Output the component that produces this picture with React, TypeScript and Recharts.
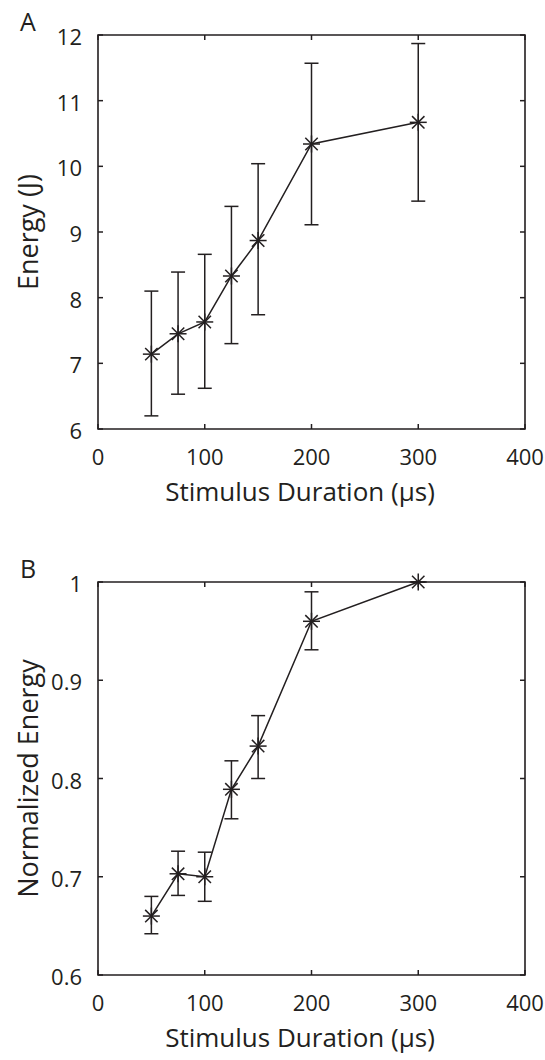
import React from "react";
import { LineChart, Line, XAxis, YAxis, ErrorBar, ReferenceArea } from "recharts";

// stimulus durations (µs)
const durations = [50, 75, 100, 125, 150, 200, 300];

// panel A: energy (J)
const energyMean = [7.14, 7.45, 7.63, 8.33, 8.87, 10.34, 10.67];
const energyLow = [6.2, 6.53, 6.62, 7.3, 7.74, 9.11, 9.47];
const energyHigh = [8.1, 8.39, 8.66, 9.39, 10.04, 11.57, 11.87];

// panel B: normalized energy
const normMean = [0.66, 0.703, 0.7, 0.789, 0.833, 0.96, 1.0];
const normLow = [0.642, 0.681, 0.675, 0.759, 0.8, 0.931, 1.0];
const normHigh = [0.68, 0.726, 0.725, 0.818, 0.864, 0.99, 1.0];

const xTicks = [0, 100, 200, 300, 400];
const energyTicks = [6, 7, 8, 9, 10, 11, 12];
const normTicks = [0.6, 0.7, 0.8, 0.9, 1];

const INK = "#231f20";
const FONT = "'Open Sans', sans-serif";
const W = 545;
const H = 530;
const LEFT = 98;
const RIGHT = 525;
const TICK = 5;

function buildRows(mean: number[], low: number[], high: number[]) {
  return durations.map((x, i) => ({
    x,
    y: mean[i],
    err: [mean[i] - low[i], high[i] - mean[i]],
  }));
}

function Asterisk(props: any) {
  const { cx, cy } = props;
  if (cx == null || cy == null) return null;
  const r = 8.5;
  const d = 6.2;
  return (
    <g stroke={INK} strokeWidth={1.5}>
      <line x1={cx - r} y1={cy} x2={cx + r} y2={cy} />
      <line x1={cx} y1={cy - r} x2={cx} y2={cy + r} />
      <line x1={cx - d} y1={cy - d} x2={cx + d} y2={cy + d} />
      <line x1={cx - d} y1={cy + d} x2={cx + d} y2={cy - d} />
    </g>
  );
}

interface PanelProps {
  letter: string;
  letterY: number;
  rows: { x: number; y: number; err: number[] }[];
  domain: [number, number];
  yTicks: number[];
  yTitle: string;
  top: number;
  axisHeight: number;
}

function Panel({ letter, letterY, rows, domain, yTicks, yTitle, top, axisHeight }: PanelProps) {
  const bottom = H - axisHeight;

  const XTick = (p: any) => (
    <g>
      <line x1={p.x} y1={bottom} x2={p.x} y2={bottom - TICK} stroke={INK} strokeWidth={1.5} />
      <line x1={p.x} y1={top} x2={p.x} y2={top + TICK} stroke={INK} strokeWidth={1.5} />
      <text x={p.x} y={bottom + 36} textAnchor="middle" fontSize={22} fill={INK} fontFamily={FONT}>
        {p.payload.value}
      </text>
    </g>
  );

  const YTick = (p: any) => (
    <g>
      <line x1={LEFT} y1={p.y} x2={LEFT + TICK} y2={p.y} stroke={INK} strokeWidth={1.5} />
      <line x1={RIGHT} y1={p.y} x2={RIGHT - TICK} y2={p.y} stroke={INK} strokeWidth={1.5} />
      <text x={LEFT - 16} y={p.y + 10} textAnchor="end" fontSize={22} fill={INK} fontFamily={FONT}>
        {p.payload.value}
      </text>
    </g>
  );

  const xTitle = () => (
    <text x={300} y={bottom + 72} textAnchor="middle" fontSize={26} fill={INK} fontFamily={FONT}>
      Stimulus Duration (µs)
    </text>
  );

  const cy = (top + bottom) / 2;
  const yTitleEl = () => (
    <g fontFamily={FONT} fill={INK}>
      <text x={20} y={letterY} fontSize={25}>
        {letter}
      </text>
      <text x={38} y={cy} transform={`rotate(-90 38 ${cy})`} textAnchor="middle" fontSize={27}>
        {yTitle}
      </text>
    </g>
  );

  return (
    <LineChart width={W} height={H} data={rows} margin={{ top, right: W - RIGHT, bottom: 0, left: 0 }}>
      <XAxis
        type="number"
        dataKey="x"
        domain={[0, 400]}
        ticks={xTicks}
        interval={0}
        height={axisHeight}
        axisLine={false}
        tickLine={false}
        tickSize={0}
        tickMargin={0}
        tick={XTick}
        label={{ content: xTitle }}
      />
      <YAxis
        type="number"
        domain={domain}
        ticks={yTicks}
        interval={0}
        width={LEFT}
        axisLine={false}
        tickLine={false}
        tickSize={0}
        tickMargin={0}
        tick={YTick}
        label={{ content: yTitleEl }}
      />
      <ReferenceArea
        x1={0}
        x2={400}
        y1={domain[0]}
        y2={domain[1]}
        fill="none"
        fillOpacity={0}
        stroke={INK}
        strokeWidth={1.6}
      />
      <Line
        dataKey="y"
        stroke={INK}
        strokeWidth={1.5}
        dot={<Asterisk />}
        activeDot={false}
        isAnimationActive={false}
      >
        <ErrorBar dataKey="err" direction="y" width={7} stroke={INK} strokeWidth={1.5} />
      </Line>
    </LineChart>
  );
}

export default function App() {
  return (
    <div style={{ position: "absolute", left: 0, top: 0, width: W, height: 1060, background: "#fff" }}>
      <Panel
        letter="A"
        letterY={31}
        rows={buildRows(energyMean, energyLow, energyHigh)}
        domain={[6, 12]}
        yTicks={energyTicks}
        yTitle="Energy (J)"
        top={35}
        axisHeight={101}
      />
      <Panel
        letter="B"
        letterY={48}
        rows={buildRows(normMean, normLow, normHigh)}
        domain={[0.6, 1]}
        yTicks={normTicks}
        yTitle="Normalized Energy"
        top={52}
        axisHeight={85}
      />
    </div>
  );
}
